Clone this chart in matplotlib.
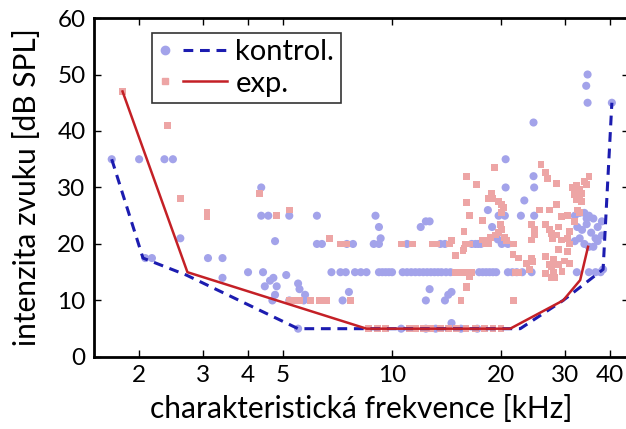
import matplotlib
matplotlib.use('Agg')
import matplotlib.pyplot as plt
from matplotlib.legend_handler import HandlerBase
from matplotlib.lines import Line2D

plt.rcParams['font.family'] = ['Lato', 'DejaVu Sans']

# kontrol. - scatter (characteristic frequency kHz, threshold dB SPL)
ctrl_f = [1.68, 2.0, 2.35, 2.48, 2.08, 2.17, 2.6, 3.1, 3.4, 3.4,
          4.0, 4.4, 4.35, 4.35, 4.55, 5.2, 6.2, 4.75, 6.2, 6.4,
          5.1, 4.7, 4.6, 4.45, 4.8, 4.75, 4.67, 5.2, 5.5, 5.55, 5.75, 5.7,
          5.5, 6.8, 7.2, 7.45, 7.9, 8.2, 8.5, 7.3, 7.6,
          7.5, 7.8, 8.9, 9.2, 9.0, 9.2, 9.3,
          9.2, 9.4, 9.6, 9.8, 10.0,
          10.7, 11.0, 11.3, 11.6, 11.9, 12.2, 12.5, 12.8, 13.1, 13.4, 13.7, 14.1, 14.5,
          11.0, 13.6, 14.0, 12.0, 12.4, 12.7,
          12.4, 12.7, 14.0, 14.3, 14.6, 14.6,
          10.6, 12.4, 13.2, 15.5, 17.2,
          16.6, 17.0, 17.3, 17.6, 20.1, 20.9,
          17.4, 17.8, 18.2, 18.6, 19.0, 19.4,
          20.9, 21.5, 22.1, 22.9, 24.3,
          18.4, 19.7, 20.5, 22.7, 18.9, 19.6,
          20.6, 20.6, 23.2, 24.6, 24.6, 24.7, 24.7,
          34.7, 34.4, 34.7, 40.5,
          32.4, 35.0, 36.5, 37.7, 38.3,
          32.0, 33.0, 34.0, 35.0, 36.0, 37.0, 32.5, 33.5, 34.5, 35.5,
          36.5, 38.0, 33.0, 34.0, 35.0, 36.0, 37.0, 32.0, 34.5, 38.0]
ctrl_db = [35, 35, 35, 35, 17.5, 17.5, 21, 17.5, 17.5, 14,
           15, 15, 30, 25, 25, 25, 25, 20.5, 20, 20,
           14.5, 14, 13.5, 12.5, 12.5, 11, 10, 10, 13, 12, 11, 10,
           5, 15, 15, 15, 15, 15, 15, 10, 11.5,
           20, 20, 20, 20, 25, 23, 21,
           15, 15, 15, 15, 15,
           15, 15, 15, 15, 15, 15, 15, 15, 15, 15, 15, 15, 15,
           20, 20, 20, 23, 24, 24,
           10, 12, 10, 11, 11.5, 6,
           5, 5, 5, 5, 5,
           20, 20, 20, 20, 20, 20,
           15, 15, 15, 15, 15, 15,
           15, 15, 15, 15, 15,
           26, 25, 25, 25, 23, 20.8,
           35, 30, 27.7, 41.5, 32, 30, 25,
           50, 48, 45, 45,
           15, 15, 15, 15, 15.5,
           25, 25.5, 25.5, 25, 24.5, 23, 23, 22.5, 23.5, 22,
           21, 21.5, 21, 20, 19.5, 19.5, 20.5, 20.5, 24.5, 24]

# exp. - scatter
exp_f = [1.8, 2.4, 2.6, 3.08, 3.08, 4.3, 4.8, 5.2,
         5.2, 5.4, 5.55, 5.95, 6.3, 6.6, 6.7, 7.3, 7.5, 7.2, 7.66,
         10.6, 11.4, 12.9, 13.3, 14.4, 15.9, 16.4, 18.1, 18.5, 21.7,
         15.5, 16.1, 21.7,
         15.0, 15.4, 15.8, 16.2, 16.6, 21.9, 22.4, 28.0, 16.4, 16.1,
         8.6, 9.1, 9.6, 11.2, 11.6, 12.2, 12.8, 13.6, 14.3, 15.1, 16.0, 17.0, 18.0, 19.0, 20.0,
         16.1, 19.2, 17.1, 18.8, 18.5, 19.0, 19.7, 20.1, 16.1, 20.3, 16.4, 20.1, 17.8, 15.8,
         19.9, 20.1, 19.7, 20.5, 20.7, 19.3, 18.7, 18.2, 14.6, 16.1, 15.8, 15.7, 17.8,
         15.0, 21.6, 22.4, 23.5, 24.0,
         25.8, 26.5, 26.9, 28.5, 32.4, 33.0, 32.0, 33.0, 32.4, 33.4, 35.0, 28.5, 25.5, 27.3,
         32.5, 33.0,
         24.3, 24.7, 24.8, 24.3, 26.5, 27.3, 27.6, 27.8, 28.8, 28.5, 29.4, 31.0, 29.4,
         28.8, 28.0, 27.6, 26.5, 26.5, 27.3, 24.5, 24.3, 28.8, 29.5, 28.0, 30.6, 27.6, 28.2,
         30.5, 31.5, 34.0, 33.5, 34.5, 32.0, 31.0, 30.0, 31.0, 30.5]
exp_db = [47, 41, 28, 25.5, 24.8, 29, 25, 26,
          10, 10, 10, 10, 10, 10, 21, 20, 20, 20, 10,
          20, 20, 20, 20, 20, 20, 20, 20, 20, 20,
          10, 12.2, 10,
          15, 15, 15, 15, 15, 15, 15, 15, 14.2, 12.4,
          5, 5, 5, 5, 5, 5, 5, 5, 5, 5, 5, 5, 5, 5, 5,
          32, 33.5, 30.5, 29, 28, 28, 27.5, 27, 27.3, 26.5, 25, 25.6, 24.2, 22.2,
          23.4, 22.5, 22, 21.2, 20.6, 21.6, 21.2, 20.6, 20.6, 20, 19.2, 18.9, 20.7,
          18, 18.2, 17.5, 16.5, 15.5,
          34, 32.6, 31.6, 30.7, 30.4, 29.6, 28.7, 28.4, 27.8, 27.5, 32, 27, 26, 26,
          26, 25.5,
          23.5, 22.6, 21.6, 20.7, 23.5, 22.6, 21.9, 21, 23, 21.6, 20.7, 22.2, 24.8,
          19, 17.2, 16, 14.8, 17.8, 16.3, 16.9, 17.5, 16.3, 15.1, 14.2, 18.6, 14, 14,
          25, 30, 31, 29, 30.5, 24, 20, 17, 16.5, 21]

# threshold envelopes
ctrl_env_f = [1.68, 2.05, 2.7, 5.5, 22.6, 29.7, 38.3, 40.5]
ctrl_env_db = [35, 17.5, 14.5, 5, 5, 10, 15.5, 45]
exp_env_f = [1.8, 2.72, 8.5, 21.2, 29.7, 33.1, 34.8]
exp_env_db = [47, 15, 5, 5, 10, 13.6, 19.5]

xticks = [2, 3, 4, 5, 10, 20, 30, 40]


class MarkLineHandler(HandlerBase):
    # marker on the left, then the line (like the matlab legend)
    def create_artists(self, legend, orig_handle, xdescent, ydescent,
                       width, height, fontsize, trans):
        mk, ln = orig_handle
        y = height / 2 - ydescent
        x0 = -xdescent
        m = Line2D([x0 + 0.1 * width], [y], ls='none', marker=mk.get_marker(),
                   color=mk.get_color(), markersize=mk.get_markersize())
        l = Line2D([x0 + 0.36 * width, x0 + width], [y, y])
        l.update_from(ln)
        l.set_marker('None')
        m.set_transform(trans)
        l.set_transform(trans)
        return [m, l]


fig = plt.figure(figsize=(6.26, 4.29), dpi=100)
ax = fig.add_axes([0.150, 0.168, 0.855, 0.790])

ax.scatter(ctrl_f, ctrl_db, s=34, marker='o', color='#a3a3ea', edgecolors='none', zorder=2)
ax.scatter(exp_f, exp_db, s=24, marker='s', color='#eda5a5', edgecolors='none', zorder=2)
ln_c, = ax.plot(ctrl_env_f, ctrl_env_db, '--', color='#1c1cb0', lw=2.2, dashes=(3.2, 2.2), zorder=3)
ln_e, = ax.plot(exp_env_f, exp_env_db, '-', color='#c42026', lw=1.8, zorder=4)

ax.set_xscale('log')
ax.set_xlim(1.5, 45.2)
ax.set_ylim(0, 60)
ax.set_xticks(xticks)
ax.set_xticklabels([str(t) for t in xticks])
ax.minorticks_off()
ax.set_yticks(range(0, 61, 10))
ax.tick_params(direction='in', top=True, right=True, length=5, width=1, labelsize=17.5, pad=6)
for s in ax.spines.values():
    s.set_linewidth(2)

ax.set_xlabel('charakteristická frekvence [kHz]', fontsize=21.5, labelpad=6)
ax.set_ylabel('intenzita zvuku [dB SPL]', fontsize=21.5, labelpad=12)

mk_c = Line2D([], [], ls='none', marker='o', color='#a3a3ea', markersize=6)
mk_e = Line2D([], [], ls='none', marker='s', color='#eda5a5', markersize=5)
leg = ax.legend([(mk_c, ln_c), (mk_e, ln_e)], ['kontrol.', 'exp.'],
                handler_map={tuple: MarkLineHandler()},
                loc='upper left', bbox_to_anchor=(0.108, 0.956), fontsize=21,
                frameon=True, fancybox=False, edgecolor='black', handlelength=2.35,
                handletextpad=0.3, borderpad=0.22, labelspacing=0.18, borderaxespad=0)
leg.get_frame().set_linewidth(1.2)

fig.savefig('out.png', dpi=100)
